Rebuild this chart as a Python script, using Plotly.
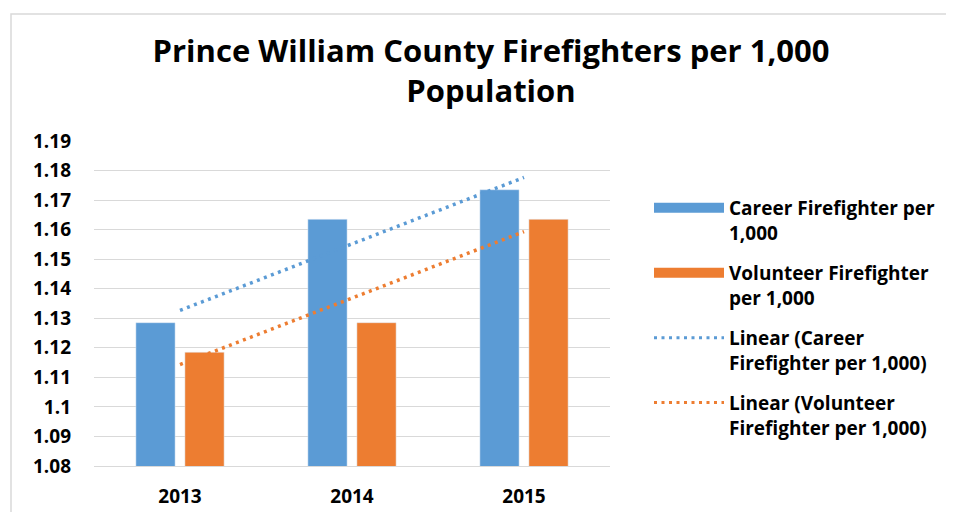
import numpy as np
import plotly.graph_objects as go

years = ["2013", "2014", "2015"]
career = [1.1285, 1.1635, 1.1735]
volunteer = [1.1185, 1.1285, 1.1635]
series_names = ["Career Firefighter per<br>1,000", "Volunteer Firefighter<br>per 1,000"]
trend_names = ["Linear (Career<br>Firefighter per 1,000)", "Linear (Volunteer<br>Firefighter per 1,000)"]
y_ticks = [1.08, 1.09, 1.10, 1.11, 1.12, 1.13, 1.14, 1.15, 1.16, 1.17, 1.18, 1.19]

BLUE = "#5B9BD5"
ORANGE = "#ED7D31"
GRID = "#D9D9D9"
FONT = "Open Sans"

W, H = 954, 512
OFF = 8  # page body margin offset
L, T = 94 - OFF, 141 - OFF
R = W - (610 - OFF)
B = H - (466 - OFF)

xi = np.arange(len(years))
def trend(vals):
    m, c = np.polyfit(xi, vals, 1)
    return list(m * xi + c)

fig = go.Figure()
fig.add_trace(go.Bar(x=years, y=career, marker_color=BLUE, showlegend=False, name="Career"))
fig.add_trace(go.Bar(x=years, y=volunteer, marker_color=ORANGE, showlegend=False, name="Volunteer"))
fig.add_trace(go.Scatter(x=years, y=trend(career), mode="lines", showlegend=False,
                         line=dict(color=BLUE, width=3.5, dash="3px,4.5px")))
fig.add_trace(go.Scatter(x=years, y=trend(volunteer), mode="lines", showlegend=False,
                         line=dict(color=ORANGE, width=3.5, dash="3px,4.5px")))

for i, (nm, col) in enumerate(zip(series_names, [BLUE, ORANGE])):
    fig.add_trace(go.Scatter(x=[None], y=[None], mode="lines", name=nm, legendgroup=f"g{i}",
                             line=dict(color=col, width=11)))
for i, (nm, col) in enumerate(zip(trend_names, [BLUE, ORANGE])):
    fig.add_trace(go.Scatter(x=[None], y=[None], mode="lines", name=nm, legendgroup=f"t{i}",
                             line=dict(color=col, width=3, dash="3px,4.5px")))

def px_x(p):
    return (p - OFF - L) / (W - L - R)
def px_y(p):
    return (H - B - (p - OFF)) / (H - T - B)

fig.add_shape(type="rect", xref="paper", yref="paper",
              x0=px_x(11), x1=px_x(W + 30), y0=px_y(14), y1=px_y(H + 30),
              line=dict(color=GRID, width=1.5), fillcolor="rgba(0,0,0,0)", layer="below")

fig.update_layout(
    width=W, height=H,
    margin=dict(l=L, r=R, t=T, b=B, autoexpand=False),
    paper_bgcolor="white", plot_bgcolor="white",
    font=dict(family=FONT, size=19, color="#000000", weight="bold"),
    title=dict(text="Prince William County Firefighters per 1,000<br>Population",
               font=dict(family=FONT, size=31, color="#000000", weight="bold"),
               x=(491 - OFF) / W, xanchor="center", xref="container",
               y=1 - 54 / H, yanchor="top", yref="container"),
    barmode="group", bargap=0.43, bargroupgap=0.2,
    legend=dict(x=(649 - OFF) / W, xanchor="left", xref="container",
                y=1 - 181 / H, yanchor="top", yref="container",
                itemwidth=70, valign="top", traceorder="grouped", tracegroupgap=12.5,
                maxheight=480,
                font=dict(family=FONT, size=19, color="#000000", weight="bold"),
                bgcolor="rgba(0,0,0,0)"),
    xaxis=dict(type="category", showgrid=False, showline=True, linecolor=GRID, linewidth=1,
               ticks="", ticklabelstandoff=13, tickfont=dict(size=19), automargin=False),
    yaxis=dict(range=[1.08, 1.19], tickvals=y_ticks, ticktext=[f"{v:g}" for v in y_ticks],
               showgrid=True, gridcolor=GRID, gridwidth=1, zeroline=False,
               showline=False, ticks="", ticklabelstandoff=22, tickfont=dict(size=19),
               automargin=False),
)

fig.write_html("out.html")
